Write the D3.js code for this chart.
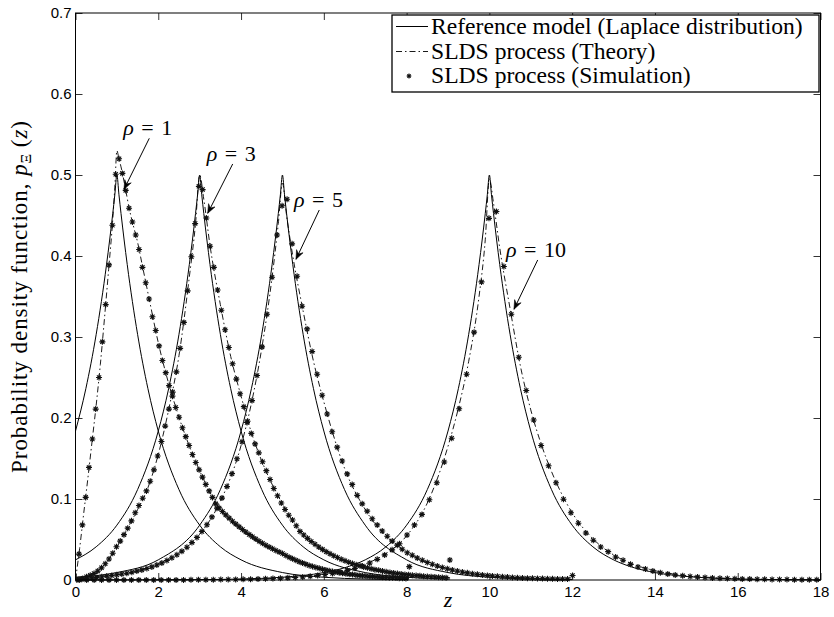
<!DOCTYPE html>
<html>
<head>
<meta charset="utf-8">
<script src="https://cdn.jsdelivr.net/npm/d3@7"></script>
<style>
  html, body { margin: 0; padding: 0; background: #fff; }
  svg { display: block; }
</style>
</head>
<body>
<svg id="chart" width="834" height="617"></svg>
<script>
// ---------------------------------------------------------------
// Axis ticks
// ---------------------------------------------------------------
const xTickValues = [0, 2, 4, 6, 8, 10, 12, 14, 16, 18];
const xTickLabels = ["0", "2", "4", "6", "8", "10", "12", "14", "16", "18"];
const yTickValues = [0, 0.1, 0.2, 0.3, 0.4, 0.5, 0.6, 0.7];
const yTickLabels = ["0", "0.1", "0.2", "0.3", "0.4", "0.5", "0.6", "0.7"];

// ---------------------------------------------------------------
// Reference model (Laplace distribution) for rho = 1, 3, 5, 10
// ---------------------------------------------------------------
const rhoValues = [1, 3, 5, 10];

const refZ1 = [0, 0.25, 0.5, 0.75, 0.9, 0.95, 1, 1.05, 1.1, 1.25, 1.5, 1.75, 2, 2.5, 3, 3.5, 4, 5, 6, 7, 8.05];
const refP1 = [0.1839, 0.2362, 0.3033, 0.3894, 0.4524, 0.4756, 0.5, 0.4756, 0.4524, 0.3894, 0.3033, 0.2362, 0.1839, 0.1116, 0.0677, 0.041, 0.0249, 0.0092, 0.0034, 0.0012, 0.0005];

const refZ3 = [0, 0.5, 1, 1.5, 2, 2.25, 2.5, 2.75, 2.9, 2.95, 3, 3.05, 3.1, 3.25, 3.5, 3.75, 4, 4.5, 5, 5.5, 6, 7, 8, 9.05];
const refP3 = [0.0249, 0.041, 0.0677, 0.1116, 0.1839, 0.2362, 0.3033, 0.3894, 0.4524, 0.4756, 0.5, 0.4756, 0.4524, 0.3894, 0.3033, 0.2362, 0.1839, 0.1116, 0.0677, 0.041, 0.0249, 0.0092, 0.0034, 0.0012];

const refZ5 = [0, 1, 2, 3, 3.5, 4, 4.25, 4.5, 4.75, 4.9, 4.95, 5, 5.05, 5.1, 5.25, 5.5, 5.75, 6, 6.5, 7, 8, 9, 10, 11, 12];
const refP5 = [0.0034, 0.0092, 0.0249, 0.0677, 0.1116, 0.1839, 0.2362, 0.3033, 0.3894, 0.4524, 0.4756, 0.5, 0.4756, 0.4524, 0.3894, 0.3033, 0.2362, 0.1839, 0.1116, 0.0677, 0.0249, 0.0092, 0.0034, 0.0012, 0.0005];

const refZ10 = [0, 3, 4, 5, 6, 6.5, 7, 7.5, 8, 8.5, 9, 9.25, 9.5, 9.75, 9.9, 9.95, 10, 10.05, 10.1, 10.25, 10.5, 10.75, 11, 11.5, 12, 12.5, 13, 13.5, 14, 15, 16, 17, 18];
const refP10 = [0.00002, 0.0005, 0.0012, 0.0034, 0.0092, 0.0151, 0.0249, 0.041, 0.0677, 0.1116, 0.1839, 0.2362, 0.3033, 0.3894, 0.4524, 0.4756, 0.5, 0.4756, 0.4524, 0.3894, 0.3033, 0.2362, 0.1839, 0.1116, 0.0677, 0.041, 0.0249, 0.0151, 0.0092, 0.0034, 0.0012, 0.0005, 0.0002];

// ---------------------------------------------------------------
// SLDS process, theoretical density
// ---------------------------------------------------------------
const thZ1 = [0, 0.1, 0.2, 0.3, 0.4, 0.5, 0.6, 0.7, 0.8, 0.9, 0.95, 1.0, 1.05, 1.1, 1.2, 1.3, 1.4, 1.5, 1.6, 1.8, 2.0, 2.2, 2.4, 2.6, 2.8, 3.0, 3.25, 3.5, 3.75, 4.0, 4.5, 5.0, 5.5, 6.0, 6.5, 7.0, 7.5, 8.05];
const thP1 = [0, 0.039, 0.083, 0.126, 0.171, 0.216, 0.266, 0.323, 0.383, 0.445, 0.485, 0.53, 0.52, 0.51, 0.485, 0.458, 0.437, 0.417, 0.392, 0.342, 0.293, 0.252, 0.217, 0.186, 0.159, 0.135, 0.108, 0.087, 0.0735, 0.062, 0.0445, 0.033, 0.0225, 0.0137, 0.0083, 0.0052, 0.0034, 0.0021];

const thZ3 = [0, 0.25, 0.5, 0.75, 1.0, 1.25, 1.5, 1.75, 2.0, 2.25, 2.5, 2.75, 2.9, 3.0, 3.1, 3.25, 3.5, 3.75, 4.0, 4.25, 4.5, 5.0, 5.5, 6.0, 6.5, 7.0, 7.5, 8.0, 8.5, 9.05];
const thP3 = [0, 0.003, 0.0095, 0.022, 0.041, 0.063, 0.087, 0.114, 0.155, 0.21, 0.277, 0.374, 0.44, 0.50, 0.47, 0.413, 0.34, 0.276, 0.227, 0.182, 0.147, 0.094, 0.056, 0.037, 0.024, 0.0155, 0.0102, 0.0067, 0.0044, 0.0028];

const thZ5 = [0, 0.5, 1, 1.5, 2, 2.5, 3, 3.5, 4, 4.25, 4.5, 4.75, 4.9, 5.0, 5.1, 5.25, 5.5, 5.75, 6, 6.5, 7, 7.5, 8, 8.5, 9, 10, 11, 12];
const thP5 = [0, 0.0038, 0.0065, 0.0112, 0.0192, 0.033, 0.0565, 0.097, 0.166, 0.218, 0.286, 0.374, 0.44, 0.49, 0.45, 0.40, 0.332, 0.27, 0.22, 0.138, 0.087, 0.054, 0.034, 0.0215, 0.0135, 0.0053, 0.0021, 0.0008];

const thZ10 = [0, 2, 4, 5, 6, 7, 7.5, 8, 8.5, 9, 9.25, 9.5, 9.75, 9.9, 10, 10.1, 10.25, 10.5, 10.75, 11, 11.25, 11.5, 11.75, 12, 12.5, 13, 13.5, 14, 14.5, 15, 15.5, 16, 17, 18];
const thP10 = [0, 0.0001, 0.0009, 0.0024, 0.0074, 0.0196, 0.0325, 0.0545, 0.095, 0.165, 0.212, 0.27, 0.35, 0.42, 0.495, 0.465, 0.41, 0.335, 0.264, 0.21, 0.168, 0.134, 0.106, 0.083, 0.051, 0.031, 0.019, 0.0115, 0.0071, 0.0044, 0.0027, 0.0017, 0.0006, 0.0002];

// ---------------------------------------------------------------
// SLDS process, simulated histograms (100 bins each):
// first bin centre and bin width, then the bin heights
// ---------------------------------------------------------------
const simStart1 = 0.085, simWidth1 = 0.0806;
const simP1 = [
  0.032, 0.068, 0.102, 0.139, 0.174, 0.211, 0.250, 0.294, 0.340, 0.389,
  0.438, 0.501, 0.520, 0.502, 0.481, 0.459, 0.442, 0.426, 0.408, 0.386,
  0.367, 0.347, 0.325, 0.308, 0.289, 0.271, 0.256, 0.240, 0.227, 0.213,
  0.201, 0.188, 0.177, 0.166, 0.155, 0.145, 0.136, 0.127, 0.118, 0.110,
  0.102, 0.094, 0.089, 0.0846, 0.0804, 0.0764, 0.0726, 0.069, 0.0656, 0.0623,
  0.0592, 0.0563, 0.0533, 0.0505, 0.0478, 0.0453, 0.0429, 0.0406, 0.0385, 0.0364,
  0.0345, 0.0327, 0.0303, 0.0282, 0.0261, 0.0243, 0.0225, 0.0209, 0.0194, 0.018,
  0.0167, 0.0155, 0.0144, 0.0133, 0.0123, 0.0114, 0.0106, 0.0098, 0.0091, 0.0084,
  0.0078, 0.0072, 0.0067, 0.0062, 0.0057, 0.0053, 0.0049, 0.0045, 0.0042, 0.0039,
  0.0036, 0.0033, 0.0031, 0.0029, 0.0027, 0.0025, 0.0023, 0.0021, 0.0020, 0.0165
];

const simStart3 = 0.085, simWidth3 = 0.0905;
const simP3 = [
  0.001, 0.002, 0.004, 0.006, 0.008, 0.011, 0.015, 0.020, 0.026, 0.033,
  0.041, 0.048, 0.056, 0.064, 0.073, 0.083, 0.092, 0.101, 0.110, 0.122,
  0.136, 0.153, 0.171, 0.190, 0.211, 0.232, 0.257, 0.286, 0.318, 0.357,
  0.399, 0.440, 0.486, 0.482, 0.447, 0.412, 0.386, 0.358, 0.333, 0.309,
  0.287, 0.267, 0.248, 0.230, 0.214, 0.196, 0.181, 0.168, 0.157, 0.146,
  0.135, 0.124, 0.113, 0.104, 0.095, 0.087, 0.080, 0.074, 0.067, 0.060,
  0.0555, 0.0514, 0.0476, 0.0441, 0.0408, 0.0378, 0.0350, 0.0324, 0.0300, 0.0278,
  0.0257, 0.0238, 0.0220, 0.0204, 0.0189, 0.0175, 0.0162, 0.0150, 0.0139, 0.0128,
  0.0119, 0.0110, 0.0102, 0.0094, 0.0087, 0.0081, 0.0075, 0.0069, 0.0064, 0.0059,
  0.0055, 0.0051, 0.0047, 0.0044, 0.0040, 0.0037, 0.0034, 0.0032, 0.0029, 0.0247
];

const simStart5 = 0.03, simWidth5 = 0.121;
const simP5 = [
  0.0003, 0.0009, 0.0016, 0.0024, 0.0032, 0.0040, 0.0048, 0.0056, 0.0065, 0.0074,
  0.0084, 0.0096, 0.0110, 0.0125, 0.0142, 0.0162, 0.0185, 0.0211, 0.0240, 0.0274,
  0.0312, 0.0356, 0.0405, 0.0462, 0.0526, 0.0600, 0.0683, 0.0779, 0.0887, 0.1011,
  0.1153, 0.1313, 0.1497, 0.1706, 0.1945, 0.2215, 0.2525, 0.2878, 0.328, 0.3737,
  0.426, 0.462, 0.470, 0.415, 0.375, 0.338, 0.31, 0.282, 0.254, 0.228,
  0.205, 0.183, 0.164, 0.147, 0.131, 0.118, 0.1045, 0.094, 0.085, 0.0757,
  0.068, 0.0605, 0.054, 0.048, 0.043, 0.038, 0.0337, 0.0305, 0.0272, 0.0243,
  0.0217, 0.0194, 0.0173, 0.0155, 0.0138, 0.0123, 0.011, 0.0098, 0.0088, 0.0078,
  0.007, 0.0063, 0.0056, 0.005, 0.0045, 0.004, 0.0036, 0.0032, 0.0029, 0.0026,
  0.0023, 0.0021, 0.0019, 0.0017, 0.0015, 0.0014, 0.0013, 0.0012, 0.0011, 0.0055
];

const simStart10 = 0.09, simWidth10 = 0.18;
const simP10 = [
  0.0001, 0.0001, 0.0001, 0.0001, 0.0001, 0.0001, 0.0001, 0.0001, 0.0001, 0.0001,
  0.0001, 0.0001, 0.0001, 0.0001, 0.0001, 0.0002, 0.0003, 0.0003, 0.0004, 0.0005,
  0.0006, 0.0007, 0.00085, 0.00102, 0.00123, 0.00149, 0.0018, 0.00217, 0.00263, 0.00317,
  0.00383, 0.00463, 0.0056, 0.00676, 0.00816, 0.00986, 0.0119, 0.0144, 0.0174, 0.021,
  0.0255, 0.031, 0.0372, 0.0448, 0.0556, 0.068, 0.081, 0.099, 0.12, 0.1457,
  0.175, 0.2115, 0.254, 0.306, 0.368, 0.4465, 0.455, 0.387, 0.328, 0.275,
  0.234, 0.1975, 0.166, 0.141, 0.12, 0.0996, 0.083, 0.07, 0.058, 0.049,
  0.0407, 0.035, 0.0284, 0.0243, 0.0193, 0.016, 0.0136, 0.011, 0.009, 0.0075,
  0.0063, 0.0052, 0.0044, 0.0037, 0.0031, 0.0026, 0.0022, 0.0018, 0.0015, 0.0013,
  0.0011, 0.0009, 0.0008, 0.0007, 0.0006, 0.0005, 0.0004, 0.0004, 0.0003, 0.0003
];

// Annotation labels with arrows, in data coordinates
const annoText   = ["1", "3", "5", "10"];
const annoLabelZ = [1.155, 3.170, 5.279, 10.401];
const annoLabelP = [0.550, 0.5173, 0.4601, 0.3984];
const annoTailZ  = [1.783, 3.798, 5.890, 11.167];
const annoTailP  = [0.5453, 0.5136, 0.4568, 0.3951];
const annoTipZ   = [1.172, 3.194, 5.327, 10.594];
const annoTipP   = [0.4823, 0.4527, 0.3959, 0.3342];

const legendLabels = [
  "Reference model (Laplace distribution)",
  "SLDS process (Theory)",
  "SLDS process (Simulation)"
];

// ---------------------------------------------------------------
// Layout
// ---------------------------------------------------------------
const SERIF = "'Liberation Serif', 'Times New Roman', serif";
const SANS  = "'Liberation Sans', Arial, Helvetica, sans-serif";
const plot = { left: 75.5, right: 820.5, top: 13, bottom: 580 };

const svg = d3.select("#chart");
const x = d3.scaleLinear().domain([0, 18]).range([plot.left, plot.right]);
const y = d3.scaleLinear().domain([0, 0.7]).range([plot.bottom, plot.top]);

svg.append("rect").attr("width", 834).attr("height", 617).attr("fill", "#fff");

svg.append("defs").append("clipPath").attr("id", "plotClip")
  .append("rect")
  .attr("x", plot.left).attr("y", plot.top - 4)
  .attr("width", plot.right - plot.left).attr("height", plot.bottom - plot.top + 8);

// ---------------------------------------------------------------
// Axes (ticks point inward on all four sides)
// ---------------------------------------------------------------
function styleAxis(g) {
  g.select(".domain").remove();
  g.selectAll(".tick line").attr("stroke", "#000").attr("stroke-width", 0.8);
  g.selectAll(".tick text").attr("fill", "#000")
    .attr("font-family", SANS).attr("font-size", 15);
}

svg.append("g")
  .attr("transform", `translate(0,${plot.bottom})`)
  .call(d3.axisBottom(x).tickValues(xTickValues)
    .tickFormat((d, i) => xTickLabels[i]).tickSize(-7).tickPadding(6))
  .call(styleAxis);

svg.append("g")
  .attr("transform", `translate(0,${plot.top})`)
  .call(d3.axisTop(x).tickValues(xTickValues).tickFormat("").tickSize(-7))
  .call(styleAxis);

svg.append("g")
  .attr("transform", `translate(${plot.left},0)`)
  .call(d3.axisLeft(y).tickValues(yTickValues)
    .tickFormat((d, i) => yTickLabels[i]).tickSize(-7).tickPadding(4))
  .call(styleAxis);

svg.append("g")
  .attr("transform", `translate(${plot.right},0)`)
  .call(d3.axisRight(y).tickValues(yTickValues).tickFormat("").tickSize(-7))
  .call(styleAxis);

// ---------------------------------------------------------------
// Curves
// ---------------------------------------------------------------
const layer = svg.append("g").attr("clip-path", "url(#plotClip)");

const line = d3.line()
  .x(d => x(d.z)).y(d => y(d.p))
  .curve(d3.curveMonotoneX);

const zip = (zs, ps) => zs.map((z, i) => ({ z, p: ps[i] }));
const bins = (start, width, ps) => ps.map((p, i) => ({ z: start + width * i, p }));

const refSeries = [zip(refZ1, refP1), zip(refZ3, refP3), zip(refZ5, refP5), zip(refZ10, refP10)];
const thSeries  = [zip(thZ1, thP1), zip(thZ3, thP3), zip(thZ5, thP5), zip(thZ10, thP10)];
const simSeries = [
  bins(simStart1, simWidth1, simP1),
  bins(simStart3, simWidth3, simP3),
  bins(simStart5, simWidth5, simP5),
  bins(simStart10, simWidth10, simP10)
];

const DASHDOT = "6,3,1.5,3";

layer.selectAll("path.ref").data(refSeries).join("path")
  .attr("class", "ref")
  .attr("d", line)
  .attr("fill", "none").attr("stroke", "#000").attr("stroke-width", 1);

layer.selectAll("path.theory").data(thSeries).join("path")
  .attr("class", "theory")
  .attr("d", line)
  .attr("fill", "none").attr("stroke", "#000").attr("stroke-width", 0.9)
  .attr("stroke-dasharray", DASHDOT);

function asterisk(r) {
  const a = r * 0.7071;
  return `M0,${-r}V${r}M${-r},0H${r}M${-a},${-a}L${a},${a}M${-a},${a}L${a},${-a}`;
}
const STAR = asterisk(3);

layer.selectAll("g.sim").data(simSeries).join("g")
  .attr("class", "sim")
  .selectAll("path").data(d => d).join("path")
  .attr("transform", d => `translate(${x(d.z)},${y(d.p)})`)
  .attr("d", STAR)
  .attr("fill", "none").attr("stroke", "#111").attr("stroke-width", 1.1);

// ---------------------------------------------------------------
// Frame
// ---------------------------------------------------------------
svg.append("rect")
  .attr("x", plot.left).attr("y", plot.top)
  .attr("width", plot.right - plot.left).attr("height", plot.bottom - plot.top)
  .attr("fill", "none").attr("stroke", "#000").attr("stroke-width", 1);

// ---------------------------------------------------------------
// rho annotations with arrows
// ---------------------------------------------------------------
const anno = svg.append("g");
rhoValues.forEach((rho, i) => {
  const t = anno.append("text")
    .attr("x", x(annoLabelZ[i])).attr("y", y(annoLabelP[i]))
    .attr("font-family", SERIF).attr("font-size", 22).attr("fill", "#000");
  t.append("tspan").attr("font-style", "italic").text("\u03C1");
  t.append("tspan").attr("dx", "0.34em").text("=");
  t.append("tspan").attr("dx", "0.34em").text(annoText[i]);

  const x0 = x(annoTailZ[i]), y0 = y(annoTailP[i]);
  const x1 = x(annoTipZ[i]),  y1 = y(annoTipP[i]);
  const ang = Math.atan2(y1 - y0, x1 - x0);
  anno.append("line")
    .attr("x1", x0).attr("y1", y0).attr("x2", x1).attr("y2", y1)
    .attr("stroke", "#000").attr("stroke-width", 1);
  // swept-back arrowhead at the tip
  const L = 9, Wd = 3.6;
  const bx = x1 - L * Math.cos(ang), by = y1 - L * Math.sin(ang);
  const nx = -Math.sin(ang), ny = Math.cos(ang);
  const mx = x1 - 0.65 * L * Math.cos(ang), my = y1 - 0.65 * L * Math.sin(ang);
  anno.append("path")
    .attr("d", `M${bx + nx * Wd},${by + ny * Wd}L${x1},${y1}L${bx - nx * Wd},${by - ny * Wd}L${mx},${my}Z`)
    .attr("fill", "#000").attr("stroke", "#000").attr("stroke-width", 0.6)
    .attr("stroke-linejoin", "miter");
});

// ---------------------------------------------------------------
// Legend
// ---------------------------------------------------------------
const leg = { x: 392, y: 15, w: 427, h: 77, rowY: [33.5, 58.5, 83], sampleX0: 396, sampleX1: 428, textX: 431 };
const lg = svg.append("g");
lg.append("rect")
  .attr("x", leg.x).attr("y", leg.y).attr("width", leg.w).attr("height", leg.h)
  .attr("fill", "#fff").attr("stroke", "#000").attr("stroke-width", 1.3);

const sampleMid = leg.rowY.map(r => r - 7);
lg.append("line")
  .attr("x1", leg.sampleX0).attr("x2", leg.sampleX1)
  .attr("y1", sampleMid[0]).attr("y2", sampleMid[0])
  .attr("stroke", "#000").attr("stroke-width", 1);
lg.append("line")
  .attr("x1", leg.sampleX0).attr("x2", leg.sampleX1)
  .attr("y1", sampleMid[1]).attr("y2", sampleMid[1])
  .attr("stroke", "#000").attr("stroke-width", 0.9).attr("stroke-dasharray", DASHDOT);
lg.append("path")
  .attr("transform", `translate(${(leg.sampleX0 + leg.sampleX1) / 2 - 3},${sampleMid[2]})`)
  .attr("d", asterisk(2.4))
  .attr("fill", "none").attr("stroke", "#111").attr("stroke-width", 1.1);

const legTexts = lg.selectAll("text.leg").data(legendLabels).join("text")
  .attr("class", "leg")
  .attr("x", leg.textX).attr("y", (d, i) => leg.rowY[i])
  .attr("font-family", SERIF).attr("font-size", 22).attr("fill", "#000")
  .text(d => d);
// size the legend text so the first entry spans its measured width
const w0 = legTexts.node().getComputedTextLength();
if (w0 > 0) legTexts.attr("font-size", 22 * 372 / w0);

// ---------------------------------------------------------------
// Axis titles
// ---------------------------------------------------------------
const ylab = svg.append("text")
  .attr("transform", "translate(27,297) rotate(-90)")
  .attr("text-anchor", "middle")
  .attr("font-family", SERIF).attr("font-size", 23).attr("fill", "#000");
ylab.append("tspan").text("Probability density function, ");
ylab.append("tspan").attr("font-style", "italic").text("p");
ylab.append("tspan").attr("font-size", 15).attr("dy", 4).text("\u039E");
ylab.append("tspan").attr("dy", -4).text("\u2009(");
ylab.append("tspan").attr("font-style", "italic").text("z");
ylab.append("tspan").text(")");
const yl = ylab.node().getComputedTextLength();
if (yl > 0 && yl < 352) ylab.attr("textLength", 352).attr("lengthAdjust", "spacing");

svg.append("text")
  .attr("x", (plot.left + plot.right) / 2).attr("y", 607)
  .attr("text-anchor", "middle")
  .attr("font-family", SERIF).attr("font-style", "italic").attr("font-size", 22)
  .attr("fill", "#000")
  .text("z");
</script>
</body>
</html>
